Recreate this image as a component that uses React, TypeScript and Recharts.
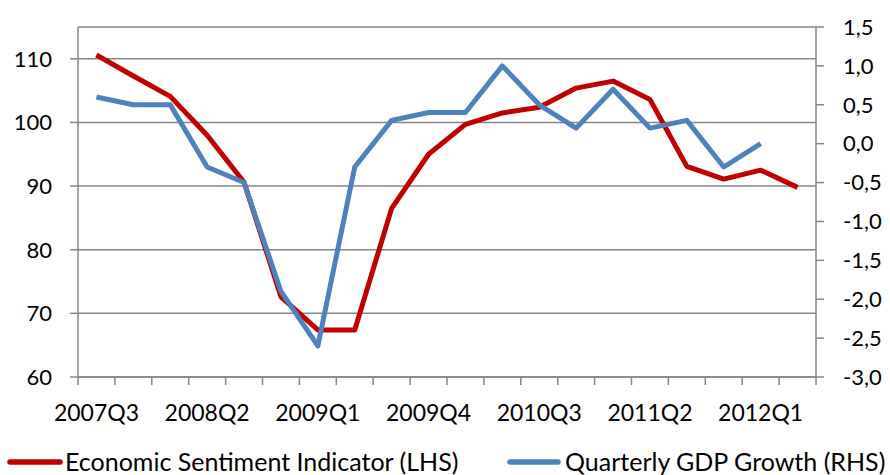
import { LineChart, Line, XAxis, YAxis, CartesianGrid, Legend } from 'recharts';

const quarters = [
  '2007Q3', '2007Q4', '2008Q1', '2008Q2', '2008Q3', '2008Q4', '2009Q1', '2009Q2', '2009Q3', '2009Q4',
  '2010Q1', '2010Q2', '2010Q3', '2010Q4', '2011Q1', '2011Q2', '2011Q3', '2011Q4', '2012Q1', '2012Q2',
];

// Economic Sentiment Indicator, left axis
const esi = [
  110.6, 107.3, 104.1, 98.0, 90.6, 72.6, 67.4, 67.4, 86.5, 95.0,
  99.7, 101.5, 102.4, 105.4, 106.5, 103.6, 93.1, 91.1, 92.5, 89.8,
];

// Quarterly GDP growth (%), right axis
const gdp = [
  0.6, 0.5, 0.5, -0.3, -0.5, -1.9, -2.6, -0.3, 0.3, 0.4,
  0.4, 1.0, 0.5, 0.2, 0.7, 0.2, 0.3, -0.3, 0.0, null,
];

const leftTicks = [60, 70, 80, 90, 100, 110];
const rightTicks = [-3, -2.5, -2, -1.5, -1, -0.5, 0, 0.5, 1, 1.5];

const data = quarters.map((q, i) => ({ q, esi: esi[i], gdp: gdp[i] }));

const W = 890;
const H = 475;
const LEFT_W = 78;
const RIGHT_W = 74;
const PLOT_W = W - LEFT_W - RIGHT_W;
const BAND = PLOT_W / quarters.length;
const GREY = '#868686';
const RED = '#C00000';
const BLUE = '#4F81BD';
const FONT = 'Lato, "Open Sans", sans-serif';

function QuarterTick(props: any) {
  const { x, y, index, payload } = props;
  const axisY = y - 8;
  const last = index === quarters.length - 1;
  return (
    <g>
      <line x1={x - BAND / 2} x2={x - BAND / 2} y1={axisY} y2={axisY + 8} stroke={GREY} strokeWidth={1.5} />
      {last && <line x1={x + BAND / 2} x2={x + BAND / 2} y1={axisY} y2={axisY + 8} stroke={GREY} strokeWidth={1.5} />}
      {index % 3 === 0 && (
        <text x={x} y={axisY + 44} textAnchor="middle" fill="#000" fontSize={23} fontFamily={FONT}>
          {payload.value}
        </text>
      )}
    </g>
  );
}

function renderLegend() {
  return (
    <svg width={W} height={48} style={{ display: 'block' }}>
      <line x1={10} x2={60} y1={35} y2={35} stroke={RED} strokeWidth={5.5} strokeLinecap="round" />
      <text x={65} y={44} fontSize={25} fontFamily={FONT} fill="#000">Economic Sentiment Indicator (LHS)</text>
      <line x1={510} x2={558} y1={35} y2={35} stroke={BLUE} strokeWidth={5.5} strokeLinecap="round" />
      <text x={565} y={44} fontSize={25} fontFamily={FONT} fill="#000">Quarterly GDP Growth (RHS)</text>
    </svg>
  );
}

const fmtRight = (v: number) => v.toFixed(1).replace('.', ',');

export default function App() {
  return (
    <div style={{ position: 'absolute', left: 0, top: 0, width: W, height: H, background: '#fff' }}>
      <LineChart width={W} height={H} data={data} margin={{ top: 27, right: 0, bottom: 0, left: 0 }}>
        <CartesianGrid yAxisId="left" vertical={false} stroke={GREY} strokeWidth={1.5} />
        <XAxis
          dataKey="q"
          scale="band"
          interval={0}
          height={50}
          tickLine={false}
          tickSize={8}
          tickMargin={0}
          axisLine={{ stroke: GREY, strokeWidth: 1.5 }}
          tick={<QuarterTick />}
        />
        <YAxis
          yAxisId="left"
          width={LEFT_W}
          domain={[60, 115]}
          ticks={leftTicks}
          interval={0}
          tickSize={8}
          tickMargin={18}
          tickLine={{ stroke: GREY, strokeWidth: 1.5 }}
          axisLine={{ stroke: GREY, strokeWidth: 1.5 }}
          tick={{ fill: '#000', fontSize: 22, fontFamily: FONT }}
        />
        <YAxis
          yAxisId="right"
          orientation="right"
          width={RIGHT_W}
          domain={[-3, 1.5]}
          ticks={rightTicks}
          interval={0}
          tickSize={8}
          tickMargin={19}
          tickFormatter={fmtRight}
          tickLine={{ stroke: GREY, strokeWidth: 1.5 }}
          axisLine={{ stroke: GREY, strokeWidth: 1.5 }}
          tick={{ fill: '#000', fontSize: 22, fontFamily: FONT }}
        />
        <Legend verticalAlign="bottom" height={48} content={renderLegend} wrapperStyle={{ left: 0, width: W }} />
        <Line
          yAxisId="left"
          dataKey="esi"
          stroke={RED}
          strokeWidth={5}
          dot={false}
          strokeLinejoin="round"
          isAnimationActive={false}
        />
        <Line
          yAxisId="right"
          dataKey="gdp"
          stroke={BLUE}
          strokeWidth={5}
          dot={false}
          strokeLinejoin="round"
          isAnimationActive={false}
        />
      </LineChart>
    </div>
  );
}
